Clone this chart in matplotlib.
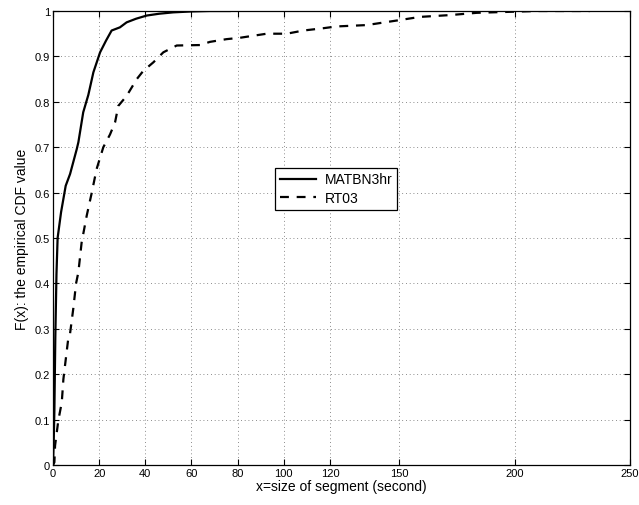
import matplotlib
matplotlib.use("Agg")
import matplotlib.pyplot as plt

plt.rcParams['font.family'] = ['Liberation Sans', 'DejaVu Sans']

# Empirical CDF of segment sizes (seconds)
matbn_x = [0, 0.3, 0.6, 1.0, 1.5, 2.0, 3.5, 5.5, 7.4, 10.3, 11.0, 13.1, 15.3, 17.5,
           20.4, 23.0, 25.4, 29.0, 31.9, 36.0, 40.6, 46.0, 52.1, 60.0, 68.0, 76.5]
matbn_y = [0, 0.05, 0.12, 0.28, 0.42, 0.50, 0.557, 0.615, 0.641, 0.696, 0.711, 0.777,
           0.815, 0.865, 0.909, 0.935, 0.957, 0.964, 0.975, 0.983, 0.990, 0.994,
           0.997, 0.999, 1.0, 1.0]

rt03_x = [0, 0.6, 0.9, 2.3, 3.8, 4.5, 5.2, 6.6, 7.4, 8.8, 10.0, 11.0, 12.4, 14.6, 16.8,
          18.9, 21.8, 24.7, 26.9, 28.3, 31.9, 36.3, 39.1, 43.5, 47.8, 53.6, 63.7,
          68.0, 75.2, 81.0, 92.6, 101.3, 108.5, 117.0, 122.9, 135.9, 148.9, 159.0,
          172.0, 183.6, 196.6, 210.0, 232.7]
rt03_y = [0, 0.006, 0.043, 0.098, 0.138, 0.189, 0.219, 0.278, 0.29, 0.345, 0.40, 0.425,
          0.49, 0.549, 0.60, 0.652, 0.70, 0.728, 0.755, 0.791, 0.813, 0.850, 0.868,
          0.887, 0.909, 0.924, 0.925, 0.932, 0.938, 0.941, 0.950, 0.950, 0.957,
          0.962, 0.966, 0.969, 0.979, 0.987, 0.991, 0.996, 0.998, 1.0, 1.0]

x_ticks = [0, 20, 40, 60, 80, 100, 120, 150, 200, 250]
y_ticks = [0, 0.1, 0.2, 0.3, 0.4, 0.5, 0.6, 0.7, 0.8, 0.9, 1]
y_tick_labels = ['0', '0.1', '0.2', '0.3', '0.4', '0.5', '0.6', '0.7', '0.8', '0.9', '1']

fig = plt.figure(figsize=(6.39, 5.06), dpi=100)
ax = fig.add_axes([53 / 639, 40 / 506, 577 / 639, 454 / 506])

ax.plot(matbn_x, matbn_y, color='black', lw=1.6, label='MATBN3hr')
ax.plot(rt03_x, rt03_y, color='black', lw=1.6, dashes=(4, 3.5), label='RT03')

ax.set_xlim(0, 250)
ax.set_ylim(0, 1)
ax.set_xticks(x_ticks)
ax.set_xticklabels([str(t) for t in x_ticks])
ax.set_yticks(y_ticks)
ax.set_yticklabels(y_tick_labels)
ax.tick_params(direction='in', top=True, right=True, length=4, width=0.8,
               labelsize=8, pad=2)

ax.grid(True, color='0.4', linestyle=(0, (1, 3.5)), linewidth=0.6)
for s in ax.spines.values():
    s.set_linewidth(0.9)

ax.set_xlabel('x=size of segment (second)', fontsize=10, labelpad=1)
ax.set_ylabel('F(x): the empirical CDF value', fontsize=10, labelpad=4)

leg = ax.legend(loc='upper left', bbox_to_anchor=(0.385, 0.655), fontsize=10,
                frameon=True, fancybox=False, edgecolor='black', framealpha=1,
                handlelength=2.6, borderpad=0.35, labelspacing=0.3,
                handletextpad=0.6, borderaxespad=0)
leg.get_frame().set_linewidth(0.9)

fig.savefig('out.png', dpi=100)
